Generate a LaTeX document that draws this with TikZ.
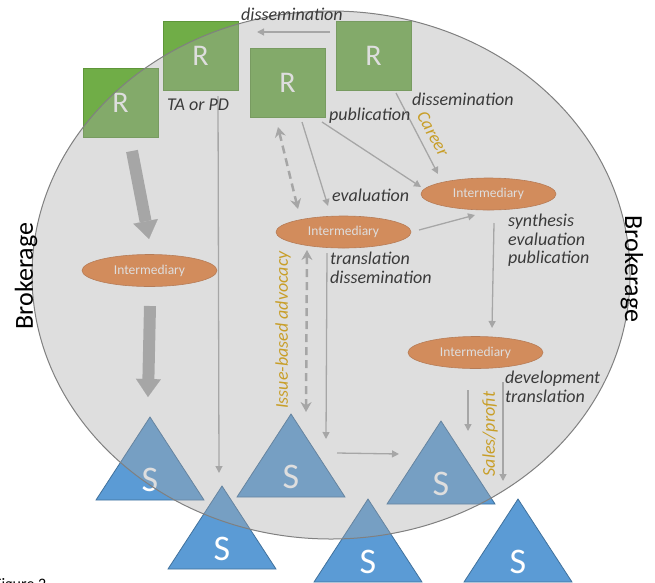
\documentclass[tikz,border=0pt]{standalone}
\usepackage{fontspec}
\setmainfont{Carlito}
\usetikzlibrary{arrows.meta,shapes.geometric}
\definecolor{rgreen}{HTML}{70AD47}
\definecolor{rgreenb}{HTML}{5E9639}
\definecolor{sblue}{HTML}{5B9BD5}
\definecolor{sblueb}{HTML}{41719C}
\definecolor{iorange}{HTML}{ED7D31}
\definecolor{iorangeb}{HTML}{C0652A}
\definecolor{ovl}{RGB}{166,166,166}
\definecolor{ovlb}{RGB}{128,128,128}
\definecolor{arrc}{RGB}{166,166,166}
\definecolor{lbl}{RGB}{58,58,58}
\definecolor{gold}{RGB}{200,158,40}
\begin{document}
\begin{tikzpicture}[x=1pt,y=-1pt,
 rbox/.style={draw=rgreenb, fill=rgreen, line width=0.8pt, minimum width=75pt, minimum height=69pt, inner sep=0pt, text=white, font=\fontsize{30}{30}\selectfont},
 inter/.style={ellipse, draw=iorangeb, fill=iorange, line width=0.6pt, minimum width=135pt, minimum height=32pt, inner sep=0pt, text=white, font=\fontsize{13.5}{14}\selectfont},
 tri/.style={draw=sblueb, fill=sblue, line width=0.8pt},
 stxt/.style={text=white, font=\fontsize{36}{36}\selectfont, inner sep=0pt},
 lab/.style={text=lbl, font=\fontsize{18}{19}\selectfont\itshape, anchor=base west, inner sep=0pt},
 glab/.style={text=gold, font=\fontsize{18}{19}\selectfont\itshape, inner sep=0pt},
 brok/.style={text=black, font=\fontsize{26}{26}\selectfont, inner sep=0pt},
 arr/.style={draw=arrc, line width=1.3pt, -{Triangle[length=7pt,width=7pt]}},
 darr/.style={draw=arrc, line width=2.5pt, dash pattern=on 8pt off 5pt, {Stealth[length=10pt,width=11pt]}-{Stealth[length=10pt,width=11pt]}},
 blk/.style={draw=arrc, line width=12pt, -{Triangle[length=18pt,width=25pt,line width=0.1pt]}},
]
\useasboundingbox (0,0) rectangle (655,582);
% researchers
\node[rbox] (R1) at (120.5,103) {R};
\node[rbox] (R2) at (200.5,55.5) {R};
\node[rbox] (R3) at (287.5,83) {R};
\node[rbox] (R4) at (373.5,55.5) {R};
% intermediaries
\node[inter] (I1) at (149.5,270.5) {Intermediary};
\node[inter] (I2) at (343.5,232) {Intermediary};
\node[inter] (I3) at (488.5,194) {Intermediary};
\node[inter] (I4) at (475.5,352.5) {Intermediary};
% stakeholders
\foreach \n/\x/\y in {S1/150/500, S2/222/569, S3/291/497, S4/441/504, S5/368/582, S6/518/582} {
  \filldraw[tri] (\x-54,\y) -- (\x,\y-83) -- (\x+54,\y) -- cycle;
  \node[stxt] (\n) at (\x,\y-20) {S};
}
% brokerage overlay
\fill[ovl, opacity=0.37] (331,275) ellipse [x radius=299pt, y radius=264pt];
\draw[ovlb, line width=1pt] (331,275) ellipse [x radius=299pt, y radius=264pt];
% connector end points
\coordinate (b1s) at (132,151); \coordinate (b1e) at (149,239);
\coordinate (b2s) at (150,306); \coordinate (b2e) at (148,397);
\coordinate (c1s) at (330,32);  \coordinate (c1e) at (257,32);
\coordinate (c2s) at (218,96);  \coordinate (c2e) at (219,473);
\coordinate (d1s) at (278,127); \coordinate (d1e) at (298,209);
\coordinate (c3s) at (302,122); \coordinate (c3e) at (328,206);
\coordinate (c4s) at (322,122); \coordinate (c4e) at (421,187);
\coordinate (c5s) at (396,93);  \coordinate (c5e) at (438,174);
\coordinate (c6s) at (419,230); \coordinate (c6e) at (475,215);
\coordinate (c7s) at (494,223); \coordinate (c7e) at (492,328);
\coordinate (d2s) at (307,250); \coordinate (d2e) at (306,412);
\coordinate (c8s) at (327,253); \coordinate (c8e) at (326,439);
\coordinate (c9s) at (337,453); \coordinate (c9e) at (399,454);
\coordinate (c10s) at (468,390); \coordinate (c10e) at (468,431);
\coordinate (c11s) at (503,382); \coordinate (c11e) at (503,481);
% connectors
\draw[blk] (b1s) -- (b1e);
\draw[blk] (b2s) -- (b2e);
\draw[arr] (c1s) -- (c1e);
\draw[arr] (c2s) -- (c2e);
\draw[darr] (d1s) -- (d1e);
\draw[arr] (c3s) -- (c3e);
\draw[arr] (c4s) -- (c4e);
\draw[arr] (c5s) -- (c5e);
\draw[arr] (c6s) -- (c6e);
\draw[arr] (c7s) -- (c7e);
\draw[darr] (d2s) -- (d2e);
\draw[arr] (c8s) -- (c8e);
\draw[arr] (c9s) -- (c9e);
\draw[arr] (c10s) -- (c10e);
\draw[arr] (c11s) -- (c11e);
% labels
\node[lab] (Ldis) at (241,20) {dissemination};
\node[lab] (Lta) at (167,110.5) {TA or PD};
\node[lab] (Lpub) at (329,120.5) {publication};
\node[lab] (Ldis2) at (412,105) {dissemination};
\node[lab] (Leval) at (332,201.5) {evaluation};
\node[lab] (Ltr) at (330,264) {translation};
\node[lab] (Ldis3) at (330,283) {dissemination};
\node[lab] (Lsyn) at (508,226.5) {synthesis};
\node[lab] (Lev2) at (508,245) {evaluation};
\node[lab] (Lpub2) at (508,263) {publication};
\node[lab] (Ldev) at (505,383) {development};
\node[lab] (Ltr2) at (505,402) {translation};
\node[glab, rotate=-61] (Gc) at (433,134) {Career};
\node[glab, rotate=90] (Gi) at (283,330) {Issue-based advocacy};
\node[glab, rotate=90] (Gs) at (490,434) {Sales/profit};
\node[brok, rotate=90] (B1) at (26,276) {Brokerage};
\node[brok, rotate=-90] (B2) at (632,269) {Brokerage};
\node[anchor=base west, inner sep=0pt, font=\fontsize{16}{16}\selectfont] (cap) at (-6,589) {Figure 2};
\end{tikzpicture}
\end{document}
